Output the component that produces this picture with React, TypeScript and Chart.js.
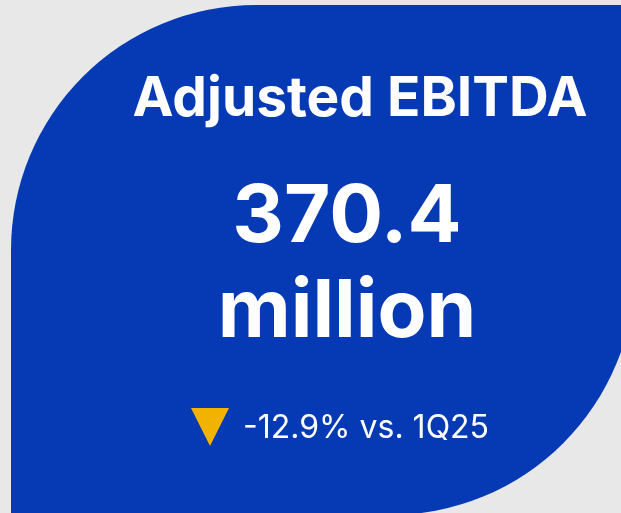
import React, { useEffect, useRef } from "react";
import { Chart, registerables } from "chart.js";

Chart.register(...registerables);

// ---- data ----
const metricTitle = "Adjusted EBITDA";
const metricValue = [370.4];
const metricUnit = "million";
const changePct = [-12.9];
const comparePeriod = ["1Q25"];

const BG = "#e8e8e8";
const BLUE = "#0639b4";
const YELLOW = "#f2b300";

function makeTriangle(): HTMLCanvasElement {
  const c = document.createElement("canvas");
  c.width = 38;
  c.height = 38;
  const g = c.getContext("2d")!;
  g.fillStyle = YELLOW;
  g.beginPath();
  g.moveTo(0, 0);
  g.lineTo(38, 0);
  g.lineTo(19, 38);
  g.closePath();
  g.fill();
  return c;
}

const cardPlugin = {
  id: "card",
  beforeDraw(chart: any) {
    const ctx = chart.ctx as CanvasRenderingContext2D;
    ctx.save();
    ctx.fillStyle = BG;
    ctx.fillRect(0, 0, chart.width, chart.height);
    const L = 11, T = 5, R = 635, B = 515, r = 245;
    ctx.fillStyle = BLUE;
    ctx.beginPath();
    ctx.moveTo(L, B);
    ctx.lineTo(L, T + r);
    ctx.arc(L + r, T + r, r, Math.PI, 1.5 * Math.PI);
    ctx.lineTo(R, T);
    ctx.lineTo(R, B - r);
    ctx.arc(R - r, B - r, r, 0, 0.5 * Math.PI);
    ctx.lineTo(L, B);
    ctx.closePath();
    ctx.fill();
    ctx.restore();
  },
};

export default function App() {
  const ref = useRef<HTMLCanvasElement>(null);

  useEffect(() => {
    document.body.style.margin = "0";
    const chart = new Chart(ref.current!, {
      type: "scatter",
      data: {
        datasets: [
          {
            label: "Change vs. " + comparePeriod[0],
            data: changePct.map((v) => ({ x: 0, y: v })),
            pointStyle: makeTriangle() as any,
            pointRadius: 19,
          },
        ],
      },
      options: {
        animation: false,
        responsive: false,
        devicePixelRatio: 1,
        layout: { padding: { left: 190, right: 391, top: 407, bottom: 66 } },
        plugins: { legend: { display: false }, tooltip: { enabled: false } },
        scales: {
          x: { display: false, min: -1, max: 1 },
          y: { display: false, min: changePct[0] * 2, max: 0 },
        },
      },
      plugins: [cardPlugin],
    });
    return () => chart.destroy();
  }, []);

  const font = "Inter, 'Noto Sans', sans-serif";
  const center = (cx: number, top: number, size: number, weight: number): React.CSSProperties => ({
    position: "absolute",
    left: cx,
    top,
    transform: "translateX(-50%)",
    whiteSpace: "nowrap",
    fontFamily: font,
    fontSize: size,
    lineHeight: size + "px",
    fontWeight: weight,
    color: "#ffffff",
  });

  return (
    <div style={{ position: "fixed", left: 0, top: 0, width: 621, height: 513, overflow: "hidden", background: BG }}>
      <canvas ref={ref} width={621} height={513} style={{ position: "absolute", left: 0, top: 0 }} />
      <div style={center(360, 69, 55, 700)}>{metricTitle}</div>
      <div style={center(347, 173, 80, 700)}>{metricValue[0].toFixed(1)}</div>
      <div style={center(347, 268, 80, 700)}>{metricUnit}</div>
      <div
        style={{
          position: "absolute",
          left: 243,
          top: 411,
          whiteSpace: "nowrap",
          fontFamily: font,
          fontSize: 32,
          lineHeight: "32px",
          fontWeight: 400,
          color: "#ffffff",
        }}
      >
        {changePct[0].toFixed(1) + "% vs. " + comparePeriod[0]}
      </div>
    </div>
  );
}
